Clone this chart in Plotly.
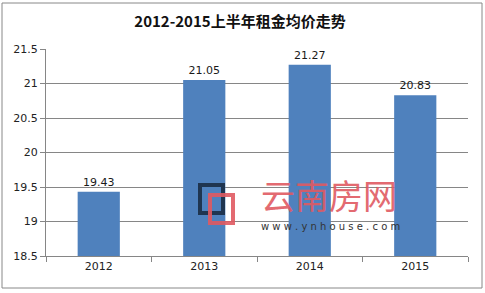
import plotly.graph_objects as go

years = ["2012", "2013", "2014", "2015"]
prices = [19.43, 21.05, 21.27, 20.83]
price_labels = ["19.43", "21.05", "21.27", "20.83"]
y_ticks = [18.5, 19, 19.5, 20, 20.5, 21, 21.5]
y_tick_text = ["18.5", "19", "19.5", "20", "20.5", "21", "21.5"]

W, H = 485, 293
L, R, T, B = 46, 17, 49, 37
pw, ph = W - L - R, H - T - B

def px(x):
    return (x - L) / pw

def py(y):
    return (H - B - y) / ph

fig = go.Figure()
fig.add_trace(go.Bar(
    x=years, y=prices, marker_color="#4F81BD", marker_line_width=0,
    text=price_labels, textposition="outside", cliponaxis=False,
    textfont=dict(size=11, color="#1a1a1a", family="DejaVu Sans"),
))

fig.update_layout(
    width=W, height=H,
    margin=dict(l=L, r=R, t=T, b=B),
    paper_bgcolor="white", plot_bgcolor="white",
    showlegend=False,
    title=dict(text="<b>2012-2015上半年租金均价走势</b>", x=240 / W, xanchor="center",
               y=1 - 22 / H, yanchor="middle",
               font=dict(size=15, color="#111", family="Noto Sans CJK SC")),
    font=dict(family="DejaVu Sans", size=11, color="#222"),
    xaxis=dict(type="category", showline=True, linecolor="#868686", linewidth=1,
               ticks="outside", ticklen=5, tickcolor="#868686", tickson="boundaries",
               tickfont=dict(size=11, color="#222"), fixedrange=True),
    yaxis=dict(range=[18.5, 21.5], tickvals=y_ticks, ticktext=y_tick_text,
               showgrid=True, gridcolor="#868686", gridwidth=1,
               showline=True, linecolor="#868686", linewidth=1,
               ticks="outside", ticklen=5, tickcolor="#868686",
               zeroline=False, tickfont=dict(size=11, color="#222")),
    bargap=0.6,
)

# chart area border
fig.add_shape(type="rect", xref="paper", yref="paper",
              x0=px(2), x1=px(482), y0=py(288), y1=py(3),
              line=dict(color="#888888", width=1), layer="below")

# watermark logo
fig.add_shape(type="rect", xref="paper", yref="paper",
              x0=px(200), x1=px(223), y0=py(213), y1=py(185),
              line=dict(color="#1F3550", width=4))
fig.add_shape(type="rect", xref="paper", yref="paper",
              x0=px(210), x1=px(233), y0=py(223), y1=py(195),
              line=dict(color="#E05A62", width=4), opacity=0.9)
fig.add_annotation(xref="paper", yref="paper", x=px(329), y=py(194),
                   xanchor="center", yanchor="middle",
                   text="云南房网", showarrow=False,
                   font=dict(size=34, color="#E05A62", family="Noto Sans CJK SC"),
                   opacity=0.9)
fig.add_annotation(xref="paper", yref="paper", x=px(330), y=py(226),
                   xanchor="center", yanchor="middle",
                   text="w w w . y n h o u s e . c o m", showarrow=False,
                   font=dict(size=10, color="#333", family="DejaVu Sans"))

fig.write_html("out.html")
